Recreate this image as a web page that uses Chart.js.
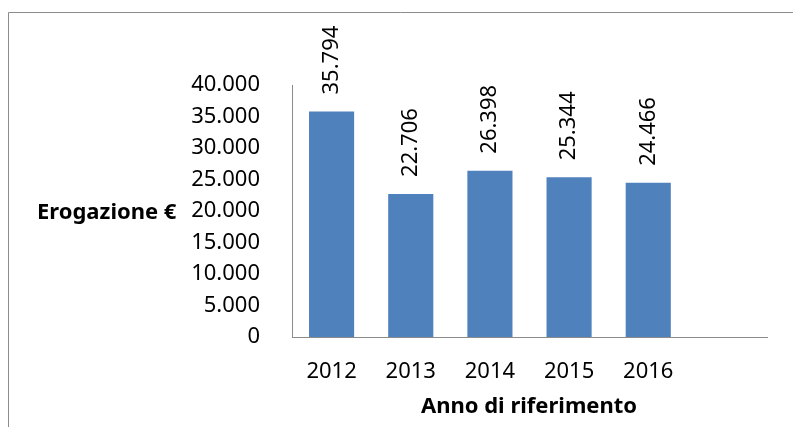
<!DOCTYPE html>
<html>
<head>
<meta charset="utf-8">
<script src="https://cdn.jsdelivr.net/npm/chart.js@4"></script>
<style>
  html, body { margin: 0; padding: 0; background: #fff; }
  #wrap { width: 793px; height: 427px; position: relative; }
</style>
</head>
<body>
<div id="wrap"><canvas id="myChart" width="793" height="427"></canvas></div>
<script>
// anni di riferimento (ultimo slot vuoto, come nel grafico Excel)
var years = ['2012', '2013', '2014', '2015', '2016', ''];
var erogazione = [35794, 22706, 26398, 25344, 24466, null];
var yTicks = [0, 5000, 10000, 15000, 20000, 25000, 30000, 35000, 40000];

var FONT = '"Noto Sans", "DejaVu Sans", sans-serif';

function fmt(n) {
    // separatore delle migliaia con il punto
    return String(n).replace(/\B(?=(\d{3})+(?!\d))/g, '.');
}

// etichette ruotate sopra le barre
const valueLabels = {
    id: 'valueLabels',
    afterDatasetsDraw(chart) {
        const ctx = chart.ctx;
        const meta = chart.getDatasetMeta(0);
        ctx.save();
        ctx.fillStyle = '#000';
        ctx.font = '22px ' + FONT;
        ctx.textAlign = 'left';
        ctx.textBaseline = 'middle';
        meta.data.forEach(function (bar, i) {
            const v = erogazione[i];
            if (v == null) return;
            ctx.save();
            ctx.translate(bar.x, bar.y - 17);
            ctx.rotate(-Math.PI / 2);
            ctx.fillText(fmt(v), 0, 0);
            ctx.restore();
        });
        ctx.restore();
    }
};

// titoli degli assi e bordo dell'area del grafico
const frame = {
    id: 'frame',
    afterDraw(chart) {
        const ctx = chart.ctx;
        ctx.save();
        ctx.strokeStyle = '#8c8c8c';
        ctx.lineWidth = 1;
        ctx.beginPath();
        ctx.moveTo(8.5, 427);
        ctx.lineTo(8.5, 12.5);
        ctx.lineTo(793, 12.5);
        ctx.stroke();

        ctx.fillStyle = '#000';
        ctx.font = 'bold 22px ' + FONT;
        ctx.textBaseline = 'middle';
        ctx.textAlign = 'left';
        ctx.fillText('Erogazione €', 37, 213);
        ctx.textAlign = 'center';
        ctx.fillText('Anno di riferimento', 529, 407);
        ctx.restore();
    }
};

const data1 = {
    labels: years,
    datasets: [{
        label: 'Erogazione',
        data: erogazione,
        backgroundColor: '#4f81bd',
        borderWidth: 0,
        categoryPercentage: 1,
        barPercentage: 0.57
    }]
};

const config = {
    type: 'bar',
    data: data1,
    options: {
        responsive: false,
        animation: false,
        layout: { padding: { left: 0, right: 26, top: 85, bottom: 0 } },
        plugins: {
            legend: { display: false },
            tooltip: { enabled: false }
        },
        scales: {
            x: {
                grid: { display: false, drawTicks: false },
                border: { display: true, color: '#8c8c8c', width: 1 },
                ticks: { color: '#000', font: { family: FONT, size: 22 }, padding: 22, maxRotation: 0 },
                afterFit: function (scale) { scale.height = 90; }
            },
            y: {
                min: 0,
                max: 40000,
                grid: { display: false, drawTicks: false },
                border: { display: true, color: '#8c8c8c', width: 1 },
                afterBuildTicks: function (scale) {
                    scale.ticks = yTicks.map(function (v) { return { value: v }; });
                },
                ticks: {
                    color: '#000',
                    font: { family: FONT, size: 22 },
                    padding: 32,
                    callback: function (v) { return fmt(v); }
                },
                afterFit: function (scale) { scale.width = 292; }
            }
        }
    },
    plugins: [valueLabels, frame]
};

const myChart = new Chart(document.getElementById('myChart'), config);
</script>
</body>
</html>
